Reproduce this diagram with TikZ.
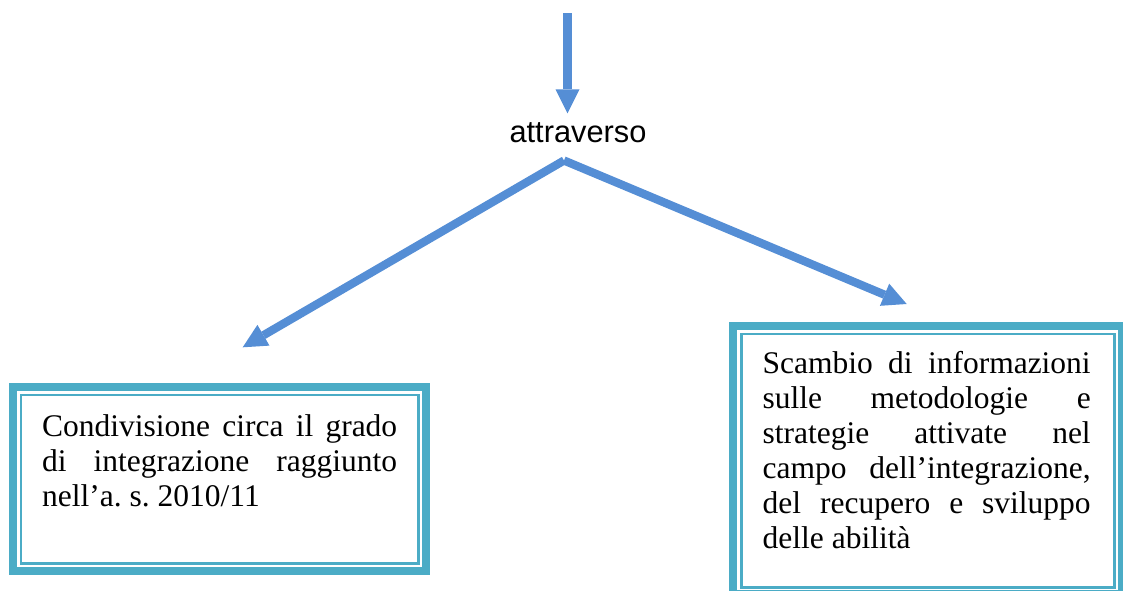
\documentclass[tikz,border=0pt]{standalone}
\usepackage{fontspec}
\setmainfont{Liberation Serif}
\newfontfamily\arialfont{Liberation Sans}
\usetikzlibrary{arrows.meta}
\definecolor{arrowblue}{HTML}{558ED5}
\definecolor{boxteal}{HTML}{4BACC6}
\begin{document}
\begin{tikzpicture}[x=1pt,y=-1pt,
  arr/.style={draw=arrowblue, line width=8.3pt,
    -{Triangle[length=24pt,width=24pt,line width=0pt]}},
  outerbox/.style={draw=boxteal, line width=8pt, inner sep=0pt, outer sep=0pt, fill=white},
  innerline/.style={draw=boxteal, line width=2.5pt},
  boxtext/.style={inner sep=0pt, anchor=base west, align=justify,
    font=\fontsize{31.5}{35}\selectfont},
  label/.style={inner sep=0pt, anchor=base, font=\arialfont\fontsize{30.8}{36}\selectfont}
]
\useasboundingbox (0,0) rectangle (1123,590);
\clip (0,0) rectangle (1123,590);

% coordinates
\coordinate (top) at (567.5,13.3);
\coordinate (vtip) at (567.5,113.3);
\coordinate (apex) at (564,160.5);
\coordinate (ltip) at (242.7,347.3);
\coordinate (rtip) at (906.7,304);

% label
\node[label] (att) at (578,142.7) {attraverso};

% boxes
\node[outerbox, minimum width=413pt, minimum height=184pt] (L) at (219.5,479) {};
\draw[innerline] ([shift={(7.75,7.75)}]L.north west) rectangle ([shift={(-7.75,-7.75)}]L.south east);
\node[outerbox, minimum width=389pt, minimum height=268pt] (R) at (927.5,460) {};
\draw[innerline] ([shift={(8.5,7.75)}]R.north west) rectangle ([shift={(-7.75,-6.5)}]R.south east);

% texts
\node[boxtext, text width=355pt] (Ltext) at (42,436.5)
  {\hyphenpenalty=10000\frenchspacing Condivisione circa il grado\linebreak
   di integrazione raggiunto\linebreak
   nell’a. s. 2010/11};
\node[boxtext, text width=328pt] (Rtext) at (762.5,373)
  {\hyphenpenalty=10000\frenchspacing Scambio di informazioni\linebreak
   sulle metodologie e\linebreak
   strategie attivate nel\linebreak
   campo dell’integrazione,\linebreak
   del recupero e sviluppo\linebreak
   delle abilità};

% connectors
\draw[arr] (top) -- (vtip);
\draw[arr] (apex) -- (ltip);
\draw[arr] (apex) -- (rtip);
\end{tikzpicture}
\end{document}
